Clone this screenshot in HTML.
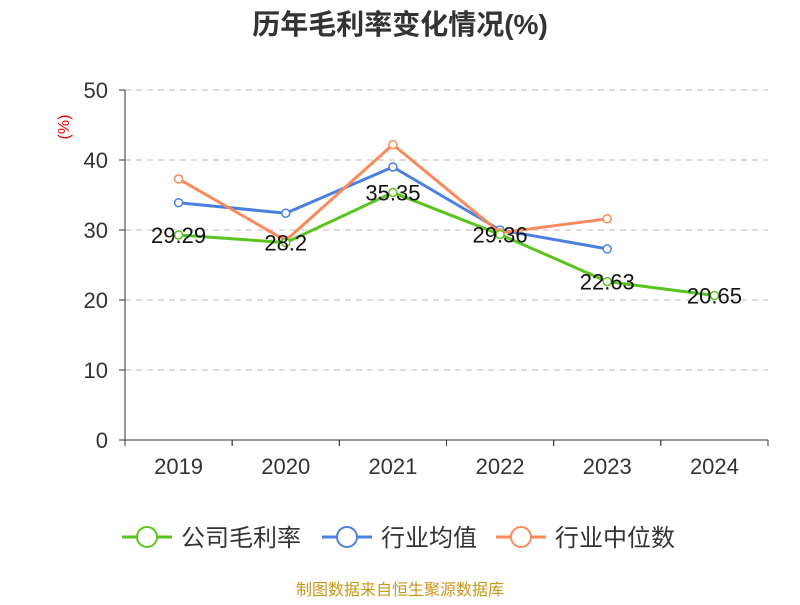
<!DOCTYPE html>
<html><head><meta charset="utf-8"><style>
body{margin:0;background:#fff;font-family:"Liberation Sans","Noto Sans CJK SC",sans-serif;}
svg text{font-family:"Liberation Sans","Noto Sans CJK SC",sans-serif;}
</style></head><body>
<svg id="c" width="800" height="600" xmlns="http://www.w3.org/2000/svg">
<text x="400" y="34" text-anchor="middle" font-size="28" font-weight="bold" fill="#333">历年毛利率变化情况(%)</text>
<text x="69" y="127" text-anchor="middle" font-size="16" fill="#e00" transform="rotate(-90 69 127)">(%)</text>
<g id="grid"></g><g id="axes"></g><g id="series"></g>
<g id="legend"></g>
<text x="400" y="595" text-anchor="middle" font-size="16" fill="#c8961e">制图数据来自恒生聚源数据库</text>
</svg>
<script>
const categories=["2019","2020","2021","2022","2023","2024"];
const company=[29.29,28.2,35.35,29.36,22.63,20.65];
const industryAvg=[33.9,32.4,39.0,30.0,27.3,null];
const industryMedian=[37.3,28.5,42.2,29.6,31.6,null];
const yTicks=[0,10,20,30,40,50];
const NS="http://www.w3.org/2000/svg";
const x0=125,x1=768,yB=440,yT=90,yMax=50;
const band=(x1-x0)/categories.length;
const xs=i=>x0+band*(i+0.5);
const ys=v=>yB-(v/yMax)*(yB-yT);
function mk(t,a,p){const e=document.createElementNS(NS,t);for(const k in a)e.setAttribute(k,a[k]);p.appendChild(e);return e;}
const grid=document.getElementById('grid'),axes=document.getElementById('axes'),ser=document.getElementById('series'),leg=document.getElementById('legend');
yTicks.forEach(v=>{
 if(v>0){const l=mk('line',{x1:x0,x2:x1,y1:ys(v),y2:ys(v),stroke:'#bbb','stroke-dasharray':'6,5'},grid);
 
 }
 const t=mk('text',{x:x0-17,y:ys(v)+8,'text-anchor':'end','font-size':22,fill:'#333'},axes);t.textContent=v;
 
 
 mk('line',{x1:x0-6,x2:x0,y1:ys(v),y2:ys(v),stroke:'#333'},axes);
});
const ya=mk('line',{x1:x0,x2:x0,y1:yT,y2:yB,stroke:'#333'},axes);


const xa=mk('line',{x1:x0,x2:x1,y1:yB,y2:yB,stroke:'#333'},axes);


categories.forEach((c,i)=>{
 for(const k of [i,i+1]) mk('line',{x1:x0+band*k,x2:x0+band*k,y1:yB,y2:yB+6,stroke:'#333'},axes);
 const t=mk('text',{x:xs(i),y:yB+34,'text-anchor':'middle','font-size':22,fill:'#333'},axes);t.textContent=c;
 
 
});
function draw(data,color,name,labels){
 const g=mk('g',{},ser);
 
 
 const pts=data.map((v,i)=>v==null?null:[xs(i),ys(v)]).filter(p=>p);
 mk('polyline',{points:pts.map(p=>p.join(',')).join(' '),fill:'none',stroke:color,'stroke-width':3},g);
 data.forEach((v,i)=>{if(v==null)return;
  const c=mk('circle',{cx:xs(i),cy:ys(v),r:4,fill:'#fff',stroke:color,'stroke-width':1.5},g);
  
  
  if(labels){const t=mk('text',{x:xs(i),y:ys(v)+8,'text-anchor':'middle','font-size':22,fill:'#111'},g);t.textContent=v;
  
  }
 });
}
draw(industryAvg,'#4a7fe0','series-industry-avg',false);
draw(industryMedian,'#fa8a5a','series-industry-median',false);
draw(company,'#5ac41e','series-company',true);
[['公司毛利率','#5ac41e',122],['行业均值','#4a7fe0',322],['行业中位数','#fa8a5a',496]].forEach(([n,c,x])=>{
 const g=mk('g',{},leg);
 
 
 mk('line',{x1:x,x2:x+50,y1:537,y2:537,stroke:c,'stroke-width':3},g);
 mk('circle',{cx:x+25,cy:537,r:10,fill:'#fff',stroke:c,'stroke-width':2},g);
 const t=mk('text',{x:x+59,y:546,'font-size':24,fill:'#333'},g);t.textContent=n;
});
</script>
</body></html>
